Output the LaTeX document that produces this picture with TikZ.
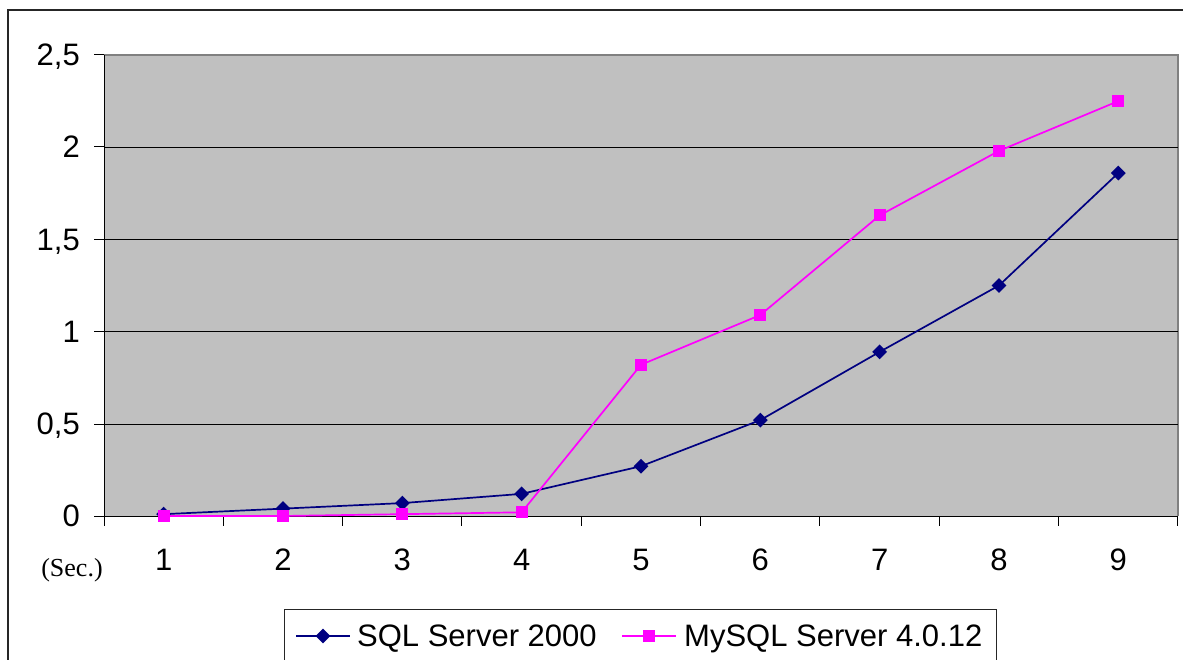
\documentclass[tikz,border=0pt]{standalone}
\usepackage{fontspec}
\setmainfont{Liberation Sans}
\newfontfamily\timesfont{Liberation Serif}
\usetikzlibrary{shapes.geometric}
\definecolor{sqlNavy}   {RGB}{0,  0,  128}
\definecolor{myMagenta} {RGB}{255,0,  255}
\definecolor{plotGray}  {RGB}{192,192,192}
\definecolor{frameGray} {RGB}{128,128,128}

\begin{document}
\begin{tikzpicture}[x=1pt,y=-1pt,
          lbl/.style={font=\fontsize{31}{33}\selectfont,inner sep=0pt,text depth=0pt},
          dia/.style={diamond,fill=sqlNavy,inner sep=0pt,minimum size=15pt},
          sq/.style={rectangle,fill=myMagenta,inner sep=0pt,minimum size=12pt},
          gridline/.style={black,line width=0.9pt}]
          \useasboundingbox (0,0) rectangle (1183,660);
          \clip (0,0) rectangle (1183,660);
          \fill[white] (0,0) rectangle (1183,660);
          % chart frame
          \draw[black!85,line width=1.3pt] (8,10) rectangle (1200,690);
          % plot area
          \fill[plotGray] (104,55) rectangle (1178,516);
          \draw[frameGray,line width=1.5pt] (104,55) -- (1178,55) -- (1178,516);
          \foreach \y in {147,239.5,331.5,424}
            \draw[gridline] (104,\y) -- (1178,\y);
          % axes and ticks
          \draw[black,line width=1pt] (104,55) -- (104,516) -- (1178,516);
          \foreach \y/\t in {55/{2,5},147/2,239.5/{1,5},331.5/1,424/{0,5},516/0} {
            \draw[black,line width=1pt] (94,\y) -- (104,\y);
            \node[lbl,anchor=east] (y\y) at (80,\y) {\t};
          }
          \foreach \i in {0,...,9}
            \draw[black,line width=1pt] (104+\i*119.33,516) -- (104+\i*119.33,526);
          \foreach \i in {1,...,9}
            \node[lbl] (x\i) at (104+\i*119.33-59.67,560) {\i};
          \node[font=\timesfont\fontsize{26}{28}\selectfont,inner sep=0pt] (unit) at (72,570) {(Sec.)};
          % data series
          \begin{scope}[shift={(104,516)},x=119.33pt,y=184.4pt]
            \foreach \i/\v in {1/0.01,2/0.04,3/0.07,4/0.12,5/0.27,6/0.52,7/0.89,8/1.25,9/1.86}
              \coordinate (s\i) at (\i-0.5,\v);
            \foreach \i/\v in {1/0,2/0,3/0.01,4/0.02,5/0.82,6/1.09,7/1.63,8/1.98,9/2.25}
              \coordinate (m\i) at (\i-0.5,\v);
          \end{scope}
          \draw[sqlNavy,line width=1.7pt] (s1) -- (s2) -- (s3) -- (s4) -- (s5) -- (s6) -- (s7) -- (s8) -- (s9);
          \foreach \i in {1,...,9}
            \node[dia] (sd\i) at (s\i) {};
          \draw[myMagenta,line width=1.7pt] (m1) -- (m2) -- (m3) -- (m4) -- (m5) -- (m6) -- (m7) -- (m8) -- (m9);
          \foreach \i in {1,...,9}
            \node[sq] (mq\i) at (m\i) {};
          % legend
          \draw[black!85,line width=1pt] (284,609) rectangle (996,690);
          \coordinate (la) at (296,636);
          \coordinate (lb) at (350,636);
          \coordinate (lc) at (622,636);
          \coordinate (ld) at (676,636);
          \draw[sqlNavy,line width=1.7pt] (la) -- (lb);
          \node[dia] (ls) at (323,636) {};
          \draw[myMagenta,line width=1.7pt] (lc) -- (ld);
          \node[sq] (lm) at (649,636) {};
          \node[lbl,anchor=west] (tsql) at (357,636) {SQL Server 2000};
          \node[lbl,anchor=west] (tmy) at (684,636) {MySQL Server 4.0.12};
        \end{tikzpicture}
\end{document}
